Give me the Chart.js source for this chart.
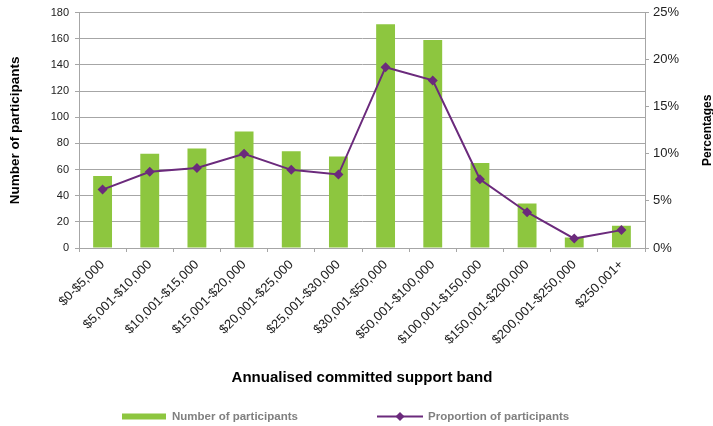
<!DOCTYPE html>
<html>
<head>
<meta charset="utf-8">
<script src="https://cdn.jsdelivr.net/npm/chart.js@4"></script>
<style>
  html, body { margin: 0; padding: 0; background: #fff; }
  #wrap { width: 713px; height: 426px; }
</style>
</head>
<body>
<div id="wrap"><canvas id="chart"></canvas></div>
<script>
const bands = ['$0-$5,000', '$5,001-$10,000', '$10,001-$15,000', '$15,001-$20,000',
  '$20,001-$25,000', '$25,001-$30,000', '$30,001-$50,000', '$50,001-$100,000',
  '$100,001-$150,000', '$150,001-$200,000', '$200,001-$250,000', '$250,001+'];
const participants = [55, 72, 76, 89, 74, 70, 171, 159, 65, 34, 8, 17];
const proportion = [6.2, 8.1, 8.5, 10.0, 8.3, 7.8, 19.2, 17.8, 7.3, 3.8, 1.0, 1.9];

const GREEN = '#8DC63F';
const PURPLE = '#6B2A7C';
const GRID = '#A6A6A6';
const FONT = '"Liberation Sans", Arial, sans-serif';

// right axis title (reads bottom-to-top) and a legend laid out like the original
const extras = {
  id: 'extras',
  afterDraw(chart) {
    const ctx = chart.ctx;
    const area = chart.chartArea;
    ctx.save();
    ctx.translate(chart.width - 5, (area.top + area.bottom) / 2);
    ctx.rotate(-Math.PI / 2);
    ctx.font = 'bold 12px ' + FONT;
    ctx.fillStyle = '#000';
    ctx.textAlign = 'center';
    ctx.textBaseline = 'middle';
    ctx.fillText('Percentages', 0, 0);
    ctx.restore();

    const ds = chart.data.datasets;
    const y = chart.height - 9.5;
    const cx = chart.width / 2;
    ctx.save();
    ctx.font = 'bold 11.5px ' + FONT;
    ctx.textBaseline = 'middle';
    // bars
    let x = cx - 234.5;
    ctx.fillStyle = ds[1].backgroundColor;
    ctx.fillRect(x, y - 3, 44, 6);
    ctx.fillStyle = '#808080';
    ctx.fillText(ds[1].label, x + 50, y);
    // line
    x = cx + 20.5;
    ctx.strokeStyle = ds[0].borderColor;
    ctx.lineWidth = 2;
    ctx.beginPath(); ctx.moveTo(x, y); ctx.lineTo(x + 46, y); ctx.stroke();
    ctx.fillStyle = ds[0].borderColor;
    ctx.beginPath();
    ctx.moveTo(x + 23, y - 4.5); ctx.lineTo(x + 27.5, y); ctx.lineTo(x + 23, y + 4.5); ctx.lineTo(x + 18.5, y);
    ctx.closePath(); ctx.fill();
    ctx.fillStyle = '#808080';
    ctx.fillText(ds[0].label, x + 51, y);
    ctx.restore();
  }
};

Chart.defaults.font.family = FONT;
Chart.defaults.font.size = 12;
Chart.defaults.color = '#222';

new Chart(document.getElementById('chart'), {
  type: 'bar',
  data: {
    labels: bands,
    datasets: [
      {
        type: 'line',
        label: 'Proportion of participants',
        data: proportion,
        yAxisID: 'y1',
        borderColor: PURPLE,
        backgroundColor: PURPLE,
        borderWidth: 2,
        pointStyle: 'rectRot',
        pointRadius: 5,
        pointBorderWidth: 0,
        tension: 0,
        order: 0
      },
      {
        label: 'Number of participants',
        data: participants,
        yAxisID: 'y',
        backgroundColor: GREEN,
        categoryPercentage: 1,
        barPercentage: 0.4,
        order: 1
      }
    ]
  },
  options: {
    responsive: true,
    maintainAspectRatio: false,
    animation: false,
    layout: { padding: { left: 4, right: 8, top: 12, bottom: 0 } },
    plugins: {
      tooltip: { enabled: false },
      legend: { display: false }
    },
    scales: {
      x: {
        grid: { drawOnChartArea: false, color: GRID, tickLength: 4, offset: true },
        border: { color: GRID },
        ticks: { maxRotation: 45, minRotation: 45, autoSkip: false, padding: 5, font: { size: 13 } },
        title: {
          display: true,
          text: 'Annualised committed support band',
          font: { weight: 'bold', size: 15 },
          color: '#000',
          padding: { top: 0, bottom: 39 }
        },
        afterFit(s) { s.height = 178; }
      },
      y: {
        position: 'left',
        min: 0, max: 180,
        ticks: { stepSize: 20, padding: 6, font: { size: 11 } },
        grid: { color: GRID, tickLength: 4 },
        border: { color: GRID },
        title: {
          display: true,
          text: 'Number of participants',
          font: { weight: 'bold', size: 13.5 },
          color: '#000',
          padding: { top: 3 }
        },
        afterFit(s) { s.width = 75; }
      },
      y1: {
        position: 'right',
        min: 0, max: 25,
        ticks: { stepSize: 5, padding: 4, font: { size: 13 }, callback: v => v + '%' },
        grid: { drawOnChartArea: false, color: GRID, tickLength: 4 },
        border: { color: GRID },
        afterFit(s) { s.width = 60; }
      }
    }
  },
  plugins: [extras]
});
</script>
</body>
</html>
